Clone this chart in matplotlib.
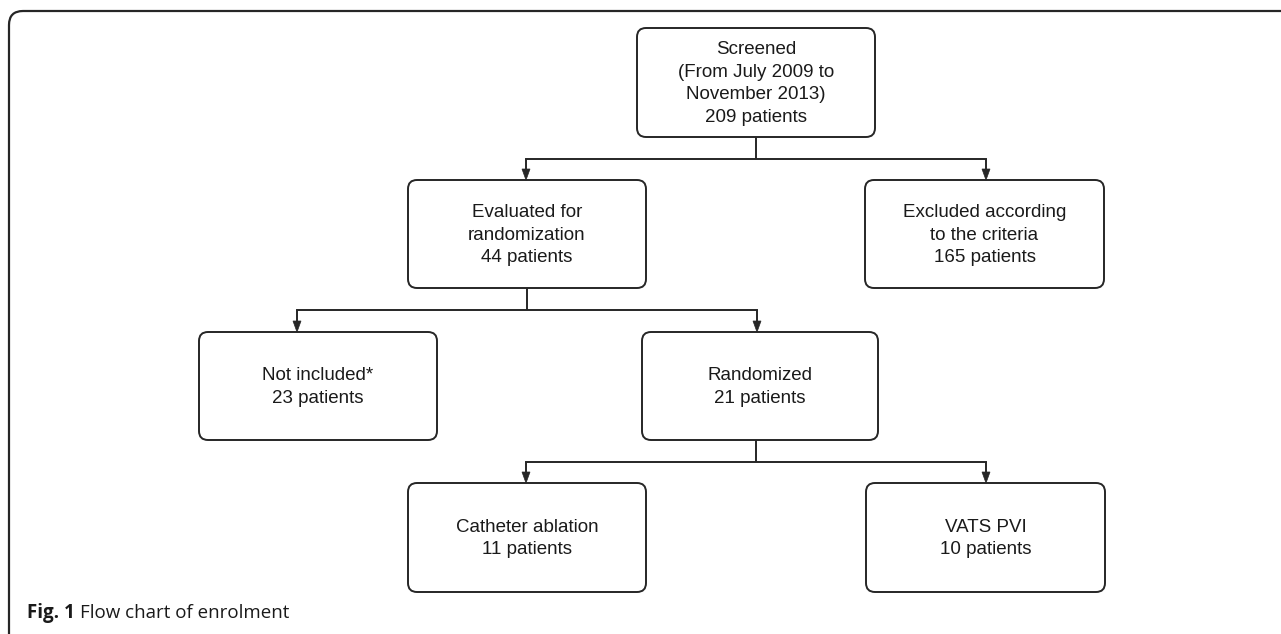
import matplotlib
matplotlib.use("Agg")
import matplotlib.pyplot as plt
from matplotlib.patches import FancyBboxPatch, PathPatch, Polygon
from matplotlib.path import Path

# ---- data ----
stages = [
    "Screened\n(From July 2009 to\nNovember 2013)",
    "Evaluated for\nrandomization",
    "Excluded according\nto the criteria",
    "Not included*",
    "Randomized",
    "Catheter ablation",
    "VATS PVI",
]
patients = [209, 44, 165, 23, 21, 11, 10]
caption_bold = "Fig. 1"
caption_text = "Flow chart of enrolment"

# ---- layout (pixel coords, y downwards) ----
boxes = [  # x0, y0, x1, y1
    (637, 28, 875, 137),
    (408, 180, 646, 288),
    (865, 180, 1104, 288),
    (199, 332, 437, 440),
    (642, 332, 878, 440),
    (408, 483, 646, 592),
    (866, 483, 1105, 592),
]
# connectors: parent index, stem x, bus y, list of (child index, arrow x)
links = [
    (0, 756, 159, [(1, 526), (2, 986)]),
    (1, 527, 310, [(3, 297), (4, 757)]),
    (4, 756, 462, [(5, 526), (6, 986)]),
]

W, H = 1281, 634
LC = "#262626"
fig = plt.figure(figsize=(W / 100, H / 100), dpi=100)
ax = fig.add_axes([0, 0, 1, 1])
ax.set_xlim(0, W)
ax.set_ylim(H, 0)
ax.axis("off")

# outer frame (top and left edges with rounded corner)
r = 14
fx, fy = 9, 11
verts = [(W + 5, fy), (fx + r, fy), (fx, fy), (fx, fy + r), (fx, H + 5)]
codes = [Path.MOVETO, Path.LINETO, Path.CURVE3, Path.CURVE3, Path.LINETO]
ax.add_patch(PathPatch(Path(verts, codes), fill=False, lw=1.6, ec=LC))

# boxes
for (x0, y0, x1, y1), name, n in zip(boxes, stages, patients):
    ax.add_patch(FancyBboxPatch((x0, y0), x1 - x0, y1 - y0,
                                boxstyle="round,pad=0,rounding_size=9",
                                fc="white", ec=LC, lw=1.4))
    ax.text((x0 + x1) / 2, (y0 + y1) / 2 + 1, f"{name}\n{n} patients",
            ha="center", va="center", fontsize=13.5, family="Liberation Sans",
            color="#1a1a1a", linespacing=1.45)

# connectors
for p, px, ybus, children in links:
    x0, y0, x1, y1 = boxes[p]
    ax.plot([px, px], [y1, ybus], color=LC, lw=1.4, solid_capstyle="butt")
    xs = [c[1] for c in children]
    ax.plot([min(xs), max(xs)], [ybus, ybus], color=LC, lw=1.4,
            solid_capstyle="projecting")
    for ci, ax_x in children:
        ty = boxes[ci][1]
        ax.plot([ax_x, ax_x], [ybus, ty - 8], color=LC, lw=1.4,
                solid_capstyle="butt")
        ax.add_patch(Polygon([(ax_x - 4, ty - 11), (ax_x + 4, ty - 11), (ax_x, ty)],
                             closed=True, fc=LC, ec=LC, lw=0.5))

# caption
t1 = ax.text(27, 618, caption_bold, fontsize=13.5, family="Open Sans",
             fontweight="bold", color="#1a1a1a", va="baseline", ha="left")
fig.canvas.draw()
bb = t1.get_window_extent()
x_px = bb.x1 + 5
ax.text(x_px, 618, caption_text, fontsize=13.5, family="Open Sans",
        color="#1a1a1a", va="baseline", ha="left")

fig.savefig("out.png", dpi=100, facecolor="white")
